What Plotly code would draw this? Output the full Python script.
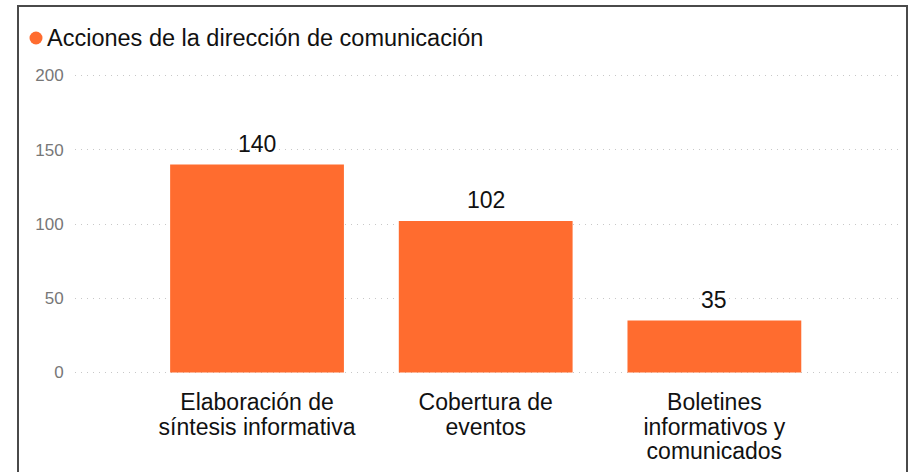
import plotly.graph_objects as go

# Data
categorias = [
    "Elaboración de<br>síntesis informativa",
    "Cobertura de<br>eventos",
    "Boletines<br>informativos y<br>comunicados",
]
valores = [140, 102, 35]
serie = "Acciones de la dirección de comunicación"
y_ticks = [0, 50, 100, 150, 200]

NARANJA = "#FF6C2F"
FONT = "Liberation Sans, Arial, sans-serif"

W, H = 912, 472
# plot area: y=0 at 373px, y=200 at 75px; range padded by 1 unit so edge gridlines show
PAD = 1
SCALE = 298 / 200
M_L, M_R = 75, 14
M_T = round(75 - PAD * SCALE)
M_B = round(H - 373 - PAD * SCALE)
PW, PH = W - M_L - M_R, H - M_T - M_B


def px_x(x):
    return (x - M_L) / PW


def px_y(y):
    return (H - M_B - y) / PH


# Bigger glyphs inside each label line, tighter line spacing from the base size
def etiqueta(txt):
    return "<br>".join(
        f"<span style='font-size:23px'>{linea}</span>" for linea in txt.split("<br>")
    )


xs = list(range(len(valores)))

fig = go.Figure()
fig.add_trace(
    go.Bar(
        x=xs,
        y=valores,
        name=serie,
        marker=dict(color=NARANJA, line=dict(width=0)),
        width=0.76,
        showlegend=False,
    )
)

# value labels above bars
valor_ann = [
    dict(
        x=x,
        y=v,
        xref="x",
        yref="y",
        text=str(v),
        showarrow=False,
        yanchor="bottom",
        yshift=6,
        font=dict(size=23, color="#111111", family=FONT),
    )
    for x, v in zip(xs, valores)
]

fig.update_layout(
    width=W,
    height=H,
    margin=dict(l=M_L, r=M_R, t=M_T, b=M_B, pad=0, autoexpand=False),
    paper_bgcolor="white",
    plot_bgcolor="white",
    font=dict(family=FONT, color="#111111"),
    xaxis=dict(
        range=[-0.796, 2.803],
        tickmode="array",
        tickvals=xs,
        ticktext=[etiqueta(c) for c in categorias],
        tickfont=dict(size=19, color="#111111", family=FONT),
        showgrid=False,
        zeroline=False,
        showline=False,
        ticks="outside",
        ticklen=12,
        tickcolor="rgba(0,0,0,0)",
        automargin=False,
    ),
    yaxis=dict(
        range=[-PAD, 200 + PAD],
        tickmode="array",
        tickvals=y_ticks,
        tickfont=dict(size=17, color="#777777", family=FONT),
        showgrid=True,
        gridcolor="#c8c8c8",
        gridwidth=1,
        griddash="1px,5px",
        zeroline=False,
        showline=False,
        ticks="outside",
        ticklen=7,
        tickcolor="rgba(0,0,0,0)",
        automargin=False,
    ),
    shapes=[
        # outer frame
        dict(
            type="rect",
            xref="paper",
            yref="paper",
            x0=px_x(18),
            x1=px_x(907),
            y0=px_y(495),
            y1=px_y(6),
            line=dict(color="#4a4a4a", width=2),
            fillcolor="rgba(0,0,0,0)",
            layer="above",
        ),
        # legend marker
        dict(
            type="circle",
            xref="paper",
            yref="paper",
            x0=px_x(29.5),
            x1=px_x(42.5),
            y0=px_y(44.5),
            y1=px_y(31.5),
            line=dict(width=0),
            fillcolor=NARANJA,
        ),
    ],
    annotations=valor_ann
    + [
        dict(
            text=serie,
            xref="paper",
            yref="paper",
            x=px_x(45),
            y=px_y(38),
            xanchor="left",
            yanchor="middle",
            showarrow=False,
            font=dict(size=23.5, color="#111111", family=FONT),
        )
    ],
)

fig.write_html("out.html")
